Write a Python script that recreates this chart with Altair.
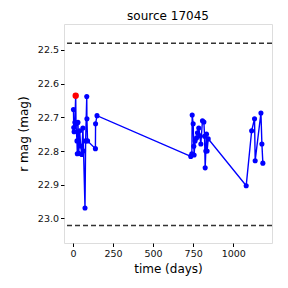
import altair as alt
import pandas as pd

times = [3, 5, 7, 12, 17, 19, 25, 27, 31, 36, 42, 48, 55, 62, 66, 75, 79, 86, 87, 91,
         140, 141, 150,
         735, 742, 744, 750, 754, 756, 762, 771, 777, 785, 792, 798, 808, 817, 821, 825,
         829, 833, 837, 844,
         1081, 1115, 1133, 1137, 1173, 1179, 1185]
mags = [22.677, 22.730, 22.743, 22.715, 22.636, 22.720, 22.770, 22.808, 22.715, 22.807,
        22.740, 22.785, 22.810, 22.732, 22.800, 22.969, 22.770, 22.638, 22.704, 22.770,
        22.793, 22.719, 22.695,
        22.816, 22.808, 22.693, 22.719, 22.786, 22.812, 22.770, 22.761, 22.746, 22.732,
        22.755, 22.779, 22.710, 22.714, 22.756, 22.850, 22.800, 22.750, 22.800, 22.764,
        22.903, 22.740, 22.704, 22.829, 22.687, 22.779, 22.836]
highlight_index = [4]
limit_lines = [22.480, 23.021]
x_ticks = [0, 250, 500, 750, 1000]
y_ticks = [22.5, 22.6, 22.7, 22.8, 22.9, 23.0]

df = pd.DataFrame({"t": times, "m": mags, "idx": list(range(len(times)))})
hl = df.iloc[highlight_index]
lim = pd.DataFrame({"y": limit_lines})

font = "DejaVu Sans"
xs = alt.Scale(domain=[-56, 1242], nice=False, zero=False)
ys = alt.Scale(domain=[22.423, 23.073], nice=False, zero=False, reverse=True)

xax = alt.Axis(values=x_ticks, format="d", title="time (days)", grid=False, tickSize=3.5,
               tickColor="black", domain=False, labelFont=font, labelFontSize=9.5,
               labelColor="#111", titleFont=font, titleFontSize=12, titleFontWeight="normal",
               titleColor="black", labelPadding=2, titlePadding=5)
yax = alt.Axis(values=y_ticks, format=".1f", title="r mag (mag)", grid=False, tickSize=3.5,
               tickColor="black", domain=False, labelFont=font, labelFontSize=9.5,
               labelColor="#111", titleFont=font, titleFontSize=12, titleFontWeight="normal",
               titleColor="black", labelPadding=2, titlePadding=7)

base = alt.Chart(df)
line = base.mark_line(color="#0000ff", strokeWidth=1.4).encode(
    x=alt.X("t:Q", scale=xs, axis=xax),
    y=alt.Y("m:Q", scale=ys, axis=yax),
    order="idx:Q",
)
pts = base.mark_circle(color="#0000ff", size=26, opacity=1).encode(
    x=alt.X("t:Q", scale=xs), y=alt.Y("m:Q", scale=ys)
)
red = alt.Chart(hl).mark_circle(color="#ff0000", size=40, opacity=1).encode(
    x=alt.X("t:Q", scale=xs), y=alt.Y("m:Q", scale=ys)
)
rules = alt.Chart(lim).mark_rule(color="#333333", strokeWidth=1.5, strokeDash=[5, 3]).encode(
    y=alt.Y("y:Q", scale=ys)
)

chart = alt.layer(rules, line, pts, red).properties(
    width=208, height=219,
    title=alt.TitleParams("source 17045", font=font, fontSize=12, fontWeight="normal",
                          color="black", offset=1),
    autosize=alt.AutoSizeParams(type="none"),
    padding={"left": 56, "top": 16, "right": 8, "bottom": 37},
).configure_view(stroke="black", strokeWidth=1).configure(background="white")

chart.save("out.html", embed_options={"renderer": "svg", "actions": False})
